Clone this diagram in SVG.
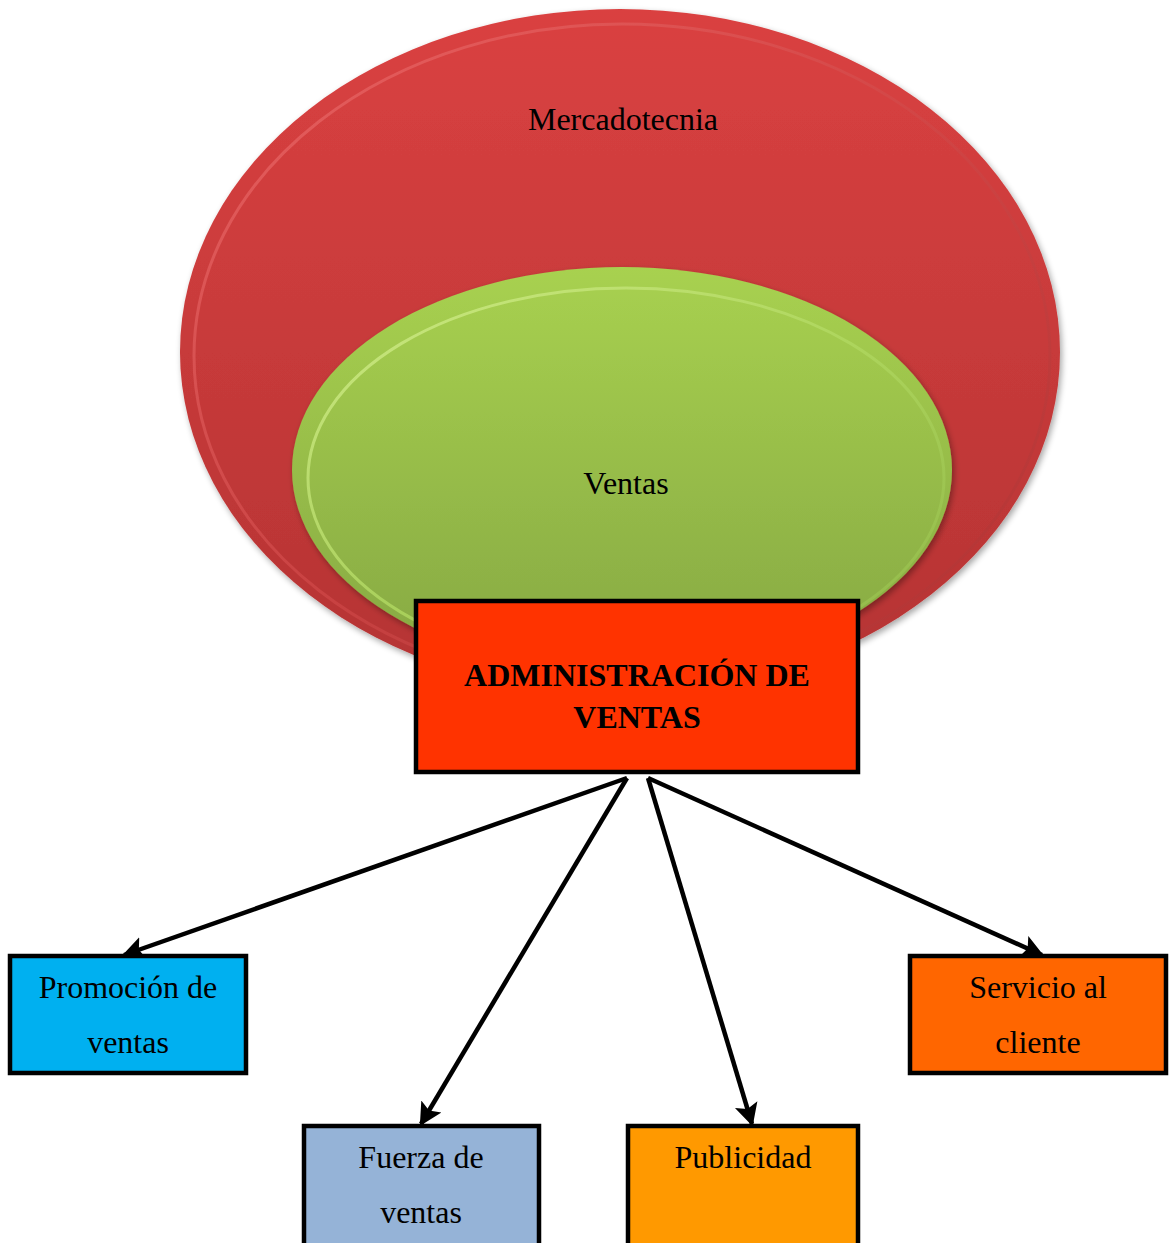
<svg xmlns="http://www.w3.org/2000/svg" width="1169" height="1243" viewBox="0 0 1169 1243">
<style>
.t{font-family:"Liberation Serif","Times New Roman",serif;font-size:32px;fill:#000;text-anchor:middle}
.b{font-family:"Liberation Serif","Times New Roman",serif;font-size:32px;font-weight:bold;fill:#000;text-anchor:middle}
.box{stroke:#000;stroke-width:4.5}
.con{stroke:#000;stroke-width:4.5;fill:none;marker-end:url(#ah)}
</style>
<defs>
<linearGradient id="gr" x1="0" y1="0" x2="0" y2="1">
<stop offset="0" stop-color="#DA4141"/>
<stop offset="1" stop-color="#B43333"/>
</linearGradient>
<linearGradient id="gg" x1="0" y1="0" x2="0" y2="1">
<stop offset="0" stop-color="#A8D150"/>
<stop offset="1" stop-color="#86A842"/>
</linearGradient>
<linearGradient id="rimr" x1="0" y1="0" x2="1" y2="1">
<stop offset="0" stop-color="#F07070"/>
<stop offset="0.5" stop-color="#D04848"/>
<stop offset="1" stop-color="#A83030"/>
</linearGradient>
<linearGradient id="rimg" x1="0" y1="0" x2="1" y2="1">
<stop offset="0" stop-color="#D6F090"/>
<stop offset="0.5" stop-color="#B0D860"/>
<stop offset="1" stop-color="#90B848"/>
</linearGradient>
<filter id="sh" x="-10%" y="-10%" width="120%" height="120%">
<feGaussianBlur in="SourceAlpha" stdDeviation="3"/>
<feOffset dx="2" dy="3"/>
<feComponentTransfer><feFuncA type="linear" slope="0.35"/></feComponentTransfer>
<feMerge><feMergeNode/><feMergeNode in="SourceGraphic"/></feMerge>
</filter>
<marker id="ah" markerWidth="6" markerHeight="6" refX="4.5" refY="3" orient="auto" markerUnits="strokeWidth">
<path d="M0,0.4 L5,3 L0,5.6 L1,3 Z" fill="#000"/>
</marker>
</defs>

<g id="mercadotecnia">
<ellipse cx="620" cy="352" rx="440" ry="343" fill="url(#gr)" filter="url(#sh)"/>
<ellipse cx="622" cy="356" rx="428" ry="332" fill="none" stroke="url(#rimr)" stroke-width="3" opacity="0.7"/>
<text class="t" x="623" y="130">Mercadotecnia</text>
</g>

<g id="ventas">
<ellipse cx="622" cy="470" rx="330" ry="203" fill="url(#gg)" filter="url(#sh)"/>
<ellipse cx="626" cy="478" rx="318" ry="190" fill="none" stroke="url(#rimg)" stroke-width="3" opacity="0.8"/>
<text class="t" x="626" y="494">Ventas</text>
</g>

<g id="admin">
<rect class="box" x="416" y="601" width="442" height="171" fill="#FF3300"/>
<text class="b" x="637" y="686">ADMINISTRACIÓN DE</text>
<text class="b" x="637" y="728">VENTAS</text>
</g>

<g id="connectors">
<line class="con" x1="627" y1="778" x2="124" y2="955"/>
<line class="con" x1="627" y1="778" x2="421" y2="1124"/>
<line class="con" x1="648" y1="778" x2="752" y2="1124"/>
<line class="con" x1="648" y1="778" x2="1042" y2="955"/>
</g>

<g id="promocion">
<rect class="box" x="10" y="956" width="236" height="117" fill="#00B0F0"/>
<text class="t" x="128" y="998">Promoción de</text>
<text class="t" x="128" y="1053">ventas</text>
</g>

<g id="fuerza">
<rect class="box" x="304" y="1126" width="235" height="125" fill="#95B3D7"/>
<text class="t" x="421" y="1168">Fuerza de</text>
<text class="t" x="421" y="1223">ventas</text>
</g>

<g id="publicidad">
<rect class="box" x="628" y="1126" width="230" height="125" fill="#FF9900"/>
<text class="t" x="743" y="1168">Publicidad</text>
</g>

<g id="servicio">
<rect class="box" x="910" y="956" width="256" height="117" fill="#FF6600"/>
<text class="t" x="1038" y="998">Servicio al</text>
<text class="t" x="1038" y="1053">cliente</text>
</g>
</svg>
